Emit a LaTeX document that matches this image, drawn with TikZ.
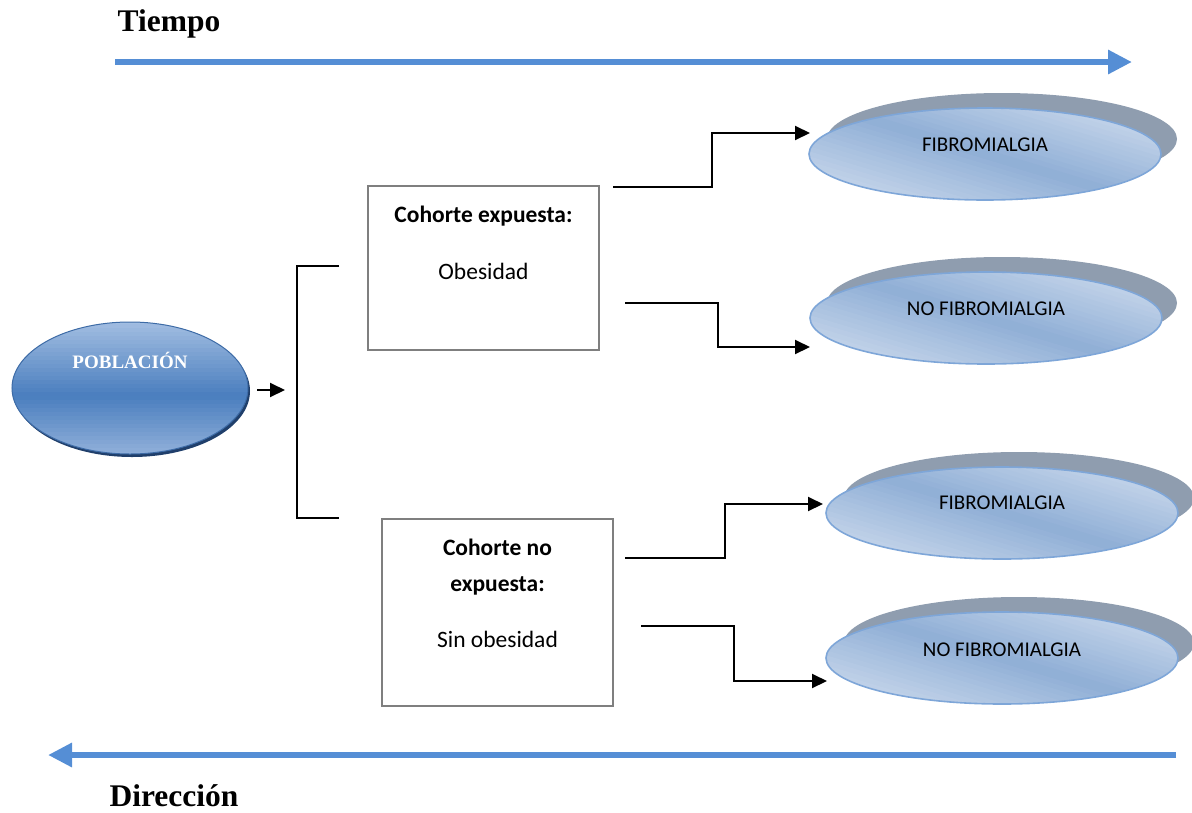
\documentclass[tikz,border=0pt]{standalone}
\usepackage{fontspec}
\setmainfont{Carlito}
\newfontfamily\serifb{Liberation Serif}
\usetikzlibrary{shapes.geometric,arrows.meta}
\definecolor{timeblue}{HTML}{558ED5}
\definecolor{fronta}{HTML}{CCDAED}
\definecolor{frontb}{HTML}{90AFD6}
\definecolor{frontline}{HTML}{7EA6D8}
\definecolor{backgray}{HTML}{8F9DAF}
\definecolor{pobtop}{HTML}{A8C2E4}
\definecolor{pobmid}{HTML}{4A7EBE}
\definecolor{pobbot}{HTML}{8EAED9}
\definecolor{pobline}{HTML}{3D6BA6}
\definecolor{pobshadow}{HTML}{203F6B}
\definecolor{boxgray}{HTML}{7F7F7F}
\tikzset{
  timearrow/.style={draw=timeblue, line width=6pt, -{Triangle[length=24pt,width=23pt]}},
  titletext/.style={font=\serifb\bfseries\fontsize{31.5}{36}\selectfont, inner sep=0pt},
  frontfill/.style={path picture={
    \foreach \i in {0,...,41}{
      \pgfmathsetmacro\sa{-105+5*\i}
      \pgfmathtruncatemacro\pc{min(100,abs(\sa+2.5)*1.15)}
      \fill[fronta!\pc!frontb, shift={(path picture bounding box.center)}]
        (-200,\sa-60) -- (200,\sa+60) -- (200,\sa+65.6) -- (-200,\sa-54.4) -- cycle;
    }}},
  frontell/.style={ellipse, minimum width=352pt, minimum height=92pt, inner sep=0pt,
    draw=frontline, line width=1.6pt, frontfill},
  backell/.style={ellipse, minimum width=350pt, minimum height=92pt, inner sep=0pt,
    fill=backgray, draw=none},
  pobfill/.style={path picture={
    \foreach \i in {0,...,19}{
      \pgfmathsetmacro\ya{-72+4*\i}
      \pgfmathtruncatemacro\pc{min(100,max(0,(8-\ya-2)/78*100))}
      \fill[pobtop!\pc!pobmid, shift={(path picture bounding box.center)}]
        (-130,\ya) rectangle (130,\ya+4.6);
    }
    \foreach \i in {0,...,16}{
      \pgfmathsetmacro\ya{8+4*\i}
      \pgfmathtruncatemacro\pc{min(100,max(0,(\ya+2-8)/56*100))}
      \fill[pobbot!\pc!pobmid, shift={(path picture bounding box.center)}]
        (-130,\ya) rectangle (130,\ya+4.6);
    }}},
  elltext/.style={font=\fontsize{21}{25}\selectfont, text=black, inner sep=0pt},
  cohbox/.style={draw=boxgray, line width=2pt, fill=white, rectangle, inner sep=0pt},
  boxtext/.style={font=\fontsize{23.5}{36}\selectfont, align=center, inner sep=0pt},
  conn/.style={draw=black, line width=2pt, -{Triangle[length=15pt,width=14pt]}},
  bracketline/.style={draw=black, line width=2pt},
}
\begin{document}
\begin{tikzpicture}[x=1pt,y=-1pt]
\useasboundingbox (0,0) rectangle (1192,812);
% time arrows
\node[titletext] (tiempo) at (169,24) {Tiempo};
\coordinate (ta) at (115,62);
\coordinate (tb) at (1132,62);
\draw[timearrow] (ta) -- (tb);
\coordinate (da) at (1176,755);
\coordinate (db) at (48,755);
\draw[timearrow] (da) -- (db);
\node[titletext, text depth=0pt, anchor=base] (direccion) at (174,806) {Dirección};
% poblacion
\fill[pobshadow] (132,391) ellipse [x radius=118, y radius=66];
\node[ellipse, minimum width=236pt, minimum height=132pt, inner sep=0pt, draw=pobline, line width=1pt,
  pobfill] (pob) at (130,388) {};
\node[font=\serifb\bfseries\fontsize{19}{22}\selectfont, text=white, inner sep=0pt] (pobtxt) at (130,360) {POBLACIÓN};
% arrow to bracket and bracket
\coordinate (pa) at (257,390);
\coordinate (pb) at (285,390);
\draw[conn] (pa) -- (pb);
\coordinate (bt) at (339,266);
\coordinate (bb) at (339,518);
\draw[bracketline] (bt) -- (297,266) -- (297,518) -- (bb);
% cohort boxes
\node[cohbox, minimum width=231pt, minimum height=164pt,
  label={[boxtext, yshift=25pt]center:{\textbf{Cohorte expuesta:}\\[21pt]Obesidad}}] (box1) at (483.5,268) {};
\node[cohbox, minimum width=231pt, minimum height=187pt,
  label={[boxtext, yshift=19.5pt]center:{\textbf{Cohorte no}\\\textbf{expuesta:}\\[20pt]Sin obesidad}}] (box2) at (497.5,612.5) {};
% outcome ellipses
\node[backell] (e1b) at (1002,139) {};
\node[frontell, label={[elltext, yshift=9pt]center:FIBROMIALGIA}] (e1) at (985,154) {};
\node[backell] (e2b) at (1002,303) {};
\node[frontell, label={[elltext, yshift=9pt]center:NO FIBROMIALGIA}] (e2) at (986,318) {};
\node[backell] (e3b) at (1019,498) {};
\node[frontell, label={[elltext, yshift=10pt]center:FIBROMIALGIA}] (e3) at (1002,513) {};
\node[backell] (e4b) at (1019,643) {};
\node[frontell, label={[elltext, yshift=8pt]center:NO FIBROMIALGIA}] (e4) at (1002,658) {};
% connectors
\coordinate (s1) at (613,187); \coordinate (t1) at (810,133);
\coordinate (s2) at (625,303); \coordinate (t2) at (810,347);
\coordinate (s3) at (625,558); \coordinate (t3) at (823,504);
\coordinate (s4) at (641,626); \coordinate (t4) at (827,681);
\draw[conn] (s1) -- ++(99,0) |- (t1);
\draw[conn] (s2) -- ++(93,0) |- (t2);
\draw[conn] (s3) -- ++(100,0) |- (t3);
\draw[conn] (s4) -- ++(93,0) |- (t4);
\end{tikzpicture}
\end{document}
